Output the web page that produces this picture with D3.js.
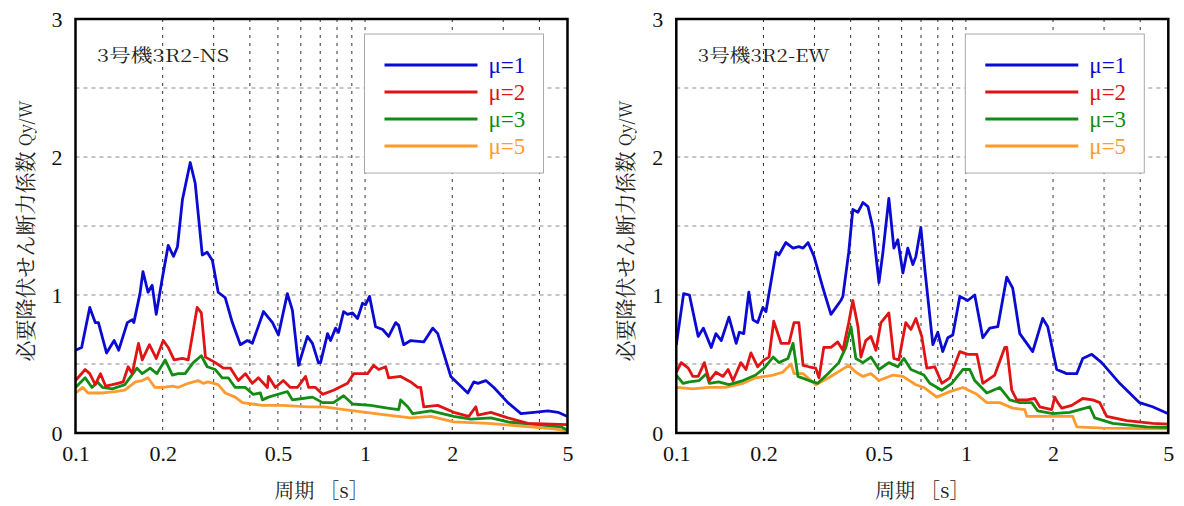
<!DOCTYPE html>
<html>
<head>
<meta charset="utf-8">
<script src="https://cdn.jsdelivr.net/npm/d3@7"></script>
<style>
body { margin: 0; background: #fff; }
svg { display: block; }
</style>
</head>
<body>
<svg id="chart" width="1184" height="506"></svg>
<script>
// [period (s), Qy/W]
var nsMu1 = [[0.100,0.60],[0.105,0.62],[0.112,0.91],[0.117,0.80],[0.120,0.80],[0.128,0.58],[0.136,0.67],[0.141,0.60],[0.151,0.80],[0.157,0.82],[0.159,0.80],[0.167,1.01],[0.171,1.17],[0.178,1.02],[0.184,1.07],[0.190,0.86],[0.199,1.11],[0.209,1.36],[0.218,1.28],[0.225,1.35],[0.234,1.69],[0.249,1.96],[0.259,1.81],[0.274,1.29],[0.285,1.31],[0.297,1.25],[0.311,1.02],[0.329,0.98],[0.348,0.80],[0.371,0.64],[0.392,0.67],[0.408,0.65],[0.446,0.88],[0.479,0.80],[0.502,0.71],[0.539,1.01],[0.561,0.89],[0.589,0.49],[0.632,0.70],[0.658,0.65],[0.690,0.51],[0.702,0.51],[0.742,0.72],[0.760,0.67],[0.791,0.76],[0.810,0.73],[0.843,0.88],[0.870,0.86],[0.905,0.87],[0.942,0.83],[0.980,0.94],[1.004,0.93],[1.036,0.99],[1.087,0.77],[1.150,0.75],[1.206,0.70],[1.275,0.80],[1.306,0.78],[1.359,0.64],[1.437,0.67],[1.594,0.66],[1.713,0.76],[1.782,0.72],[1.976,0.41],[2.263,0.29],[2.374,0.37],[2.451,0.36],[2.612,0.38],[2.784,0.33],[3.112,0.22],[3.452,0.14],[3.828,0.15],[4.280,0.16],[4.637,0.15],[5.0,0.12]];
var nsMu2 = [[0.100,0.38],[0.108,0.46],[0.112,0.43],[0.117,0.35],[0.122,0.43],[0.127,0.34],[0.134,0.35],[0.140,0.36],[0.146,0.37],[0.152,0.48],[0.157,0.43],[0.165,0.65],[0.170,0.53],[0.180,0.64],[0.190,0.54],[0.201,0.67],[0.209,0.62],[0.219,0.53],[0.234,0.54],[0.245,0.53],[0.263,0.91],[0.272,0.87],[0.281,0.55],[0.304,0.51],[0.324,0.47],[0.343,0.47],[0.365,0.38],[0.386,0.43],[0.408,0.36],[0.428,0.40],[0.460,0.33],[0.464,0.41],[0.490,0.33],[0.522,0.38],[0.552,0.33],[0.584,0.33],[0.623,0.41],[0.638,0.33],[0.674,0.33],[0.713,0.28],[0.778,0.31],[0.870,0.36],[0.913,0.43],[1.020,0.43],[1.070,0.49],[1.114,0.46],[1.178,0.48],[1.206,0.40],[1.327,0.41],[1.437,0.37],[1.520,0.33],[1.556,0.33],[1.594,0.19],[1.782,0.20],[2.024,0.15],[2.281,0.12],[2.412,0.19],[2.451,0.13],[2.718,0.15],[3.112,0.11],[3.65,0.07],[5.0,0.06]];
var nsMu3 = [[0.100,0.33],[0.108,0.40],[0.114,0.33],[0.119,0.37],[0.124,0.33],[0.134,0.32],[0.148,0.35],[0.163,0.47],[0.170,0.43],[0.181,0.47],[0.191,0.43],[0.204,0.53],[0.216,0.42],[0.226,0.43],[0.239,0.43],[0.255,0.51],[0.272,0.56],[0.285,0.48],[0.304,0.46],[0.321,0.40],[0.337,0.40],[0.356,0.33],[0.386,0.33],[0.411,0.28],[0.435,0.29],[0.442,0.24],[0.464,0.26],[0.518,0.29],[0.539,0.30],[0.561,0.24],[0.608,0.25],[0.658,0.26],[0.713,0.22],[0.778,0.22],[0.843,0.27],[0.905,0.21],[1.045,0.20],[1.196,0.18],[1.306,0.17],[1.327,0.24],[1.403,0.19],[1.460,0.14],[1.686,0.16],[2.024,0.12],[2.317,0.10],[2.718,0.11],[3.112,0.08],[3.95,0.06],[4.75,0.045],[5.0,0.02]];
var nsMu5 = [[0.100,0.29],[0.106,0.33],[0.1105,0.29],[0.124,0.29],[0.137,0.30],[0.148,0.31],[0.161,0.37],[0.170,0.38],[0.178,0.40],[0.188,0.33],[0.201,0.33],[0.216,0.34],[0.226,0.33],[0.245,0.36],[0.265,0.38],[0.276,0.36],[0.287,0.37],[0.311,0.35],[0.329,0.29],[0.356,0.26],[0.377,0.22],[0.442,0.20],[0.518,0.20],[0.638,0.19],[0.719,0.19],[0.913,0.16],[1.196,0.13],[1.437,0.11],[1.686,0.12],[2.024,0.08],[2.654,0.07],[3.45,0.05],[4.49,0.03],[5.0,0.015]];

var ewMu1 = [[0.100,0.64],[0.106,1.01],[0.111,1.00],[0.119,0.70],[0.124,0.76],[0.132,0.62],[0.137,0.72],[0.143,0.67],[0.152,0.84],[0.161,0.65],[0.165,0.73],[0.171,0.72],[0.178,1.02],[0.184,0.82],[0.191,0.80],[0.199,0.91],[0.204,0.88],[0.221,1.31],[0.226,1.29],[0.239,1.38],[0.253,1.34],[0.265,1.35],[0.274,1.34],[0.285,1.38],[0.299,1.28],[0.321,1.05],[0.342,0.86],[0.356,0.91],[0.370,0.96],[0.376,0.99],[0.394,1.31],[0.407,1.62],[0.424,1.60],[0.441,1.67],[0.459,1.64],[0.477,1.49],[0.501,1.09],[0.517,1.31],[0.542,1.70],[0.564,1.34],[0.582,1.40],[0.606,1.16],[0.630,1.34],[0.656,1.22],[0.672,1.28],[0.699,1.49],[0.722,1.18],[0.769,0.64],[0.800,0.73],[0.832,0.59],[0.866,0.69],[0.901,0.71],[0.953,0.99],[1.015,0.96],[1.073,1.00],[1.144,0.69],[1.209,0.76],[1.289,0.77],[1.384,1.13],[1.451,1.05],[1.535,0.72],[1.701,0.59],[1.842,0.83],[1.917,0.77],[2.059,0.46],[2.229,0.43],[2.414,0.43],[2.532,0.54],[2.720,0.57],[2.944,0.51],[3.397,0.36],[3.978,0.22],[4.412,0.19],[5.0,0.14]];
var ewMu2 = [[0.100,0.44],[0.104,0.51],[0.110,0.47],[0.114,0.41],[0.119,0.41],[0.125,0.51],[0.130,0.38],[0.137,0.44],[0.145,0.41],[0.151,0.46],[0.157,0.38],[0.167,0.51],[0.174,0.46],[0.181,0.58],[0.191,0.48],[0.201,0.53],[0.209,0.55],[0.217,0.81],[0.230,0.65],[0.245,0.65],[0.255,0.80],[0.265,0.80],[0.274,0.49],[0.287,0.48],[0.303,0.47],[0.311,0.40],[0.323,0.62],[0.342,0.62],[0.361,0.66],[0.376,0.60],[0.394,0.80],[0.407,0.96],[0.424,0.77],[0.434,0.55],[0.451,0.67],[0.470,0.70],[0.489,0.60],[0.509,0.80],[0.542,0.87],[0.564,0.54],[0.587,0.53],[0.620,0.80],[0.646,0.75],[0.672,0.83],[0.704,0.70],[0.733,0.47],[0.781,0.48],[0.826,0.36],[0.880,0.40],[0.953,0.59],[1.015,0.57],[1.091,0.57],[1.144,0.36],[1.258,0.42],[1.362,0.62],[1.384,0.62],[1.440,0.31],[1.498,0.24],[1.623,0.24],[1.729,0.25],[1.799,0.19],[1.979,0.17],[2.027,0.26],[2.076,0.22],[2.143,0.18],[2.320,0.20],[2.532,0.25],[2.742,0.24],[2.899,0.22],[3.064,0.12],[3.592,0.09],[4.412,0.07],[5.0,0.065]];
var ewMu3 = [[0.100,0.42],[0.1055,0.36],[0.111,0.37],[0.120,0.38],[0.127,0.43],[0.130,0.36],[0.140,0.37],[0.152,0.35],[0.170,0.38],[0.188,0.42],[0.201,0.47],[0.216,0.55],[0.226,0.51],[0.243,0.54],[0.253,0.65],[0.263,0.41],[0.287,0.38],[0.308,0.36],[0.334,0.43],[0.364,0.51],[0.385,0.62],[0.401,0.77],[0.417,0.54],[0.441,0.51],[0.470,0.55],[0.501,0.46],[0.542,0.51],[0.582,0.48],[0.611,0.54],[0.646,0.46],[0.716,0.42],[0.751,0.36],[0.826,0.31],[0.894,0.36],[0.976,0.46],[1.031,0.46],[1.073,0.38],[1.181,0.29],[1.309,0.33],[1.417,0.24],[1.535,0.22],[1.688,0.22],[1.771,0.16],[1.995,0.14],[2.284,0.15],[2.677,0.19],[2.785,0.11],[3.214,0.07],[4.206,0.045],[5.0,0.04]];
var ewMu5 = [[0.100,0.33],[0.114,0.32],[0.130,0.33],[0.148,0.33],[0.170,0.36],[0.188,0.40],[0.216,0.42],[0.233,0.44],[0.249,0.50],[0.255,0.43],[0.274,0.43],[0.303,0.35],[0.336,0.40],[0.394,0.49],[0.417,0.44],[0.441,0.41],[0.470,0.43],[0.501,0.38],[0.560,0.42],[0.606,0.41],[0.672,0.35],[0.716,0.33],[0.794,0.26],[0.880,0.30],[0.976,0.33],[1.091,0.28],[1.181,0.22],[1.309,0.22],[1.451,0.18],[1.597,0.17],[1.623,0.12],[1.995,0.12],[2.339,0.12],[2.414,0.045],[2.968,0.035],[5.0,0.03]];

var seriesNames = ["μ=1", "μ=2", "μ=3", "μ=5"];
var xTicks = [0.1, 0.2, 0.5, 1, 2, 5];
var xGrid = [0.2, 0.3, 0.4, 0.5, 0.6, 0.7, 0.8, 0.9, 1, 2, 3, 4];
var yTicks = [0, 1, 2, 3];
var yGrid = [0.5, 1, 1.5, 2, 2.5];

var colors = ["#0a0ad2", "#e01414", "#148c14", "#ff9a2e"];

var panels = [
	{title: "3号機3R2-NS", data: [nsMu1, nsMu2, nsMu3, nsMu5], left: 75.5},
	{title: "3号機3R2-EW", data: [ewMu1, ewMu2, ewMu3, ewMu5], left: 676.3}
];

var svg = d3.select("#chart");
var top_ = 19, bottom = 433, pw = 492;
var latin = "Liberation Serif";
var mincho = "Noto Serif CJK JP";

panels.forEach(function(p, pi) {
	var x = d3.scaleLog().domain([0.1, 5]).range([p.left, p.left + pw]);
	var y = d3.scaleLinear().domain([0, 3]).range([bottom, top_]);
	var g = svg.append("g");

	g.append("clipPath").attr("id", "clip" + pi)
	.append("rect")
	.attr("x", p.left).attr("y", top_)
	.attr("width", pw).attr("height", bottom - top_);

	// grid
	g.selectAll(".hgrid").data(yGrid).enter().append("line")
	.attr("x1", p.left).attr("x2", p.left + pw)
	.attr("y1", d => y(d)).attr("y2", d => y(d))
	.attr("stroke", "#8a8a8a").attr("stroke-width", 1)
	.attr("stroke-dasharray", "4,4");

	g.selectAll(".vgrid").data(xGrid).enter().append("line")
	.attr("x1", d => x(d)).attr("x2", d => x(d))
	.attr("y1", top_).attr("y2", bottom)
	.attr("stroke", "#333").attr("stroke-width", 1)
	.attr("stroke-dasharray", "3,5");

	// curves
	var line = d3.line().x(d => x(d[0])).y(d => y(d[1]));
	g.append("g").attr("clip-path", "url(#clip" + pi + ")")
	.selectAll("path").data(p.data.slice().reverse()).enter().append("path")
	.attr("d", line)
	.attr("fill", "none")
	.attr("stroke", (d, i) => colors[3 - i])
	.attr("stroke-width", 2.8)
	.attr("stroke-linejoin", "round");

	// frame
	g.append("rect")
	.attr("x", p.left).attr("y", top_)
	.attr("width", pw).attr("height", bottom - top_)
	.attr("fill", "none").attr("stroke", "#000").attr("stroke-width", 2.5);

	// axes
	var yAxis = g.append("g")
	.attr("transform", `translate(${p.left},0)`)
	.call(d3.axisLeft(y).tickValues(yTicks).tickSize(0).tickPadding(13).tickFormat(d3.format("d")));
	yAxis.select(".domain").remove();
	yAxis.attr("font-family", latin).attr("font-size", 22);
	yAxis.selectAll("text").attr("fill", "#111");

	var xAxis = g.append("g")
	.attr("transform", `translate(0,${bottom})`)
	.call(d3.axisBottom(x).tickValues(xTicks).tickSize(0).tickPadding(12).tickFormat(d => String(d)));
	xAxis.select(".domain").remove();
	xAxis.attr("font-family", latin).attr("font-size", 22);
	xAxis.selectAll("text").attr("fill", "#111");

	// titles
	g.append("text")
	.attr("x", p.left + 21.5).attr("y", 62)
	.attr("textLength", 132).attr("lengthAdjust", "spacingAndGlyphs")
	.attr("font-family", mincho).attr("font-size", 18).attr("fill", "#222")
	.text(p.title);

	g.append("text")
	.attr("x", p.left + pw / 2).attr("y", 498)
	.attr("text-anchor", "middle")
	.attr("font-family", mincho).attr("font-size", 20).attr("fill", "#222")
	.text("周期 ［s］");

	var yl = g.append("text")
	.attr("transform", `translate(${p.left - 52},231) rotate(-90)`)
	.attr("text-anchor", "middle").attr("dominant-baseline", "central")
	.attr("font-family", mincho).attr("font-size", 21).attr("fill", "#222");
	yl.append("tspan").text("必要降伏せん断力係数 ");
	yl.append("tspan").attr("font-size", 17).text("Qy/W");

	// legend
	var lx = p.left + 289;
	g.append("rect")
	.attr("x", lx).attr("y", 34).attr("width", 179).attr("height", 139)
	.attr("fill", "#fff").attr("stroke", "#aaa").attr("stroke-width", 1);

	var items = g.selectAll(".leg").data(seriesNames).enter().append("g")
	.attr("transform", (d, i) => `translate(${lx},${65 + i * 27})`);
	items.append("line")
	.attr("x1", 20).attr("x2", 113)
	.attr("stroke", (d, i) => colors[i]).attr("stroke-width", 2.8);
	items.append("text")
	.attr("x", 124).attr("y", 8)
	.attr("font-family", latin).attr("font-size", 23)
	.attr("fill", (d, i) => colors[i])
	.text(d => d);
});
</script>
</body>
</html>
